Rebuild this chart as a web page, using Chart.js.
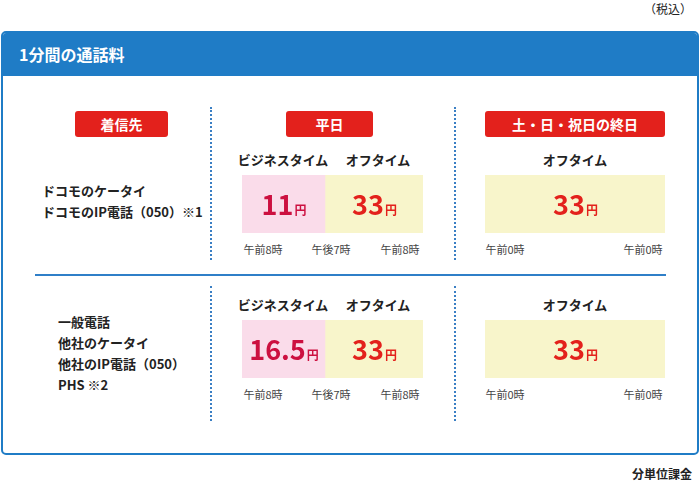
<!DOCTYPE html>
<html><head><meta charset="utf-8">
<script src="https://cdn.jsdelivr.net/npm/chart.js"></script>
<style>
body{margin:0;width:700px;height:483px;position:relative;font-family:"Noto Sans CJK JP",sans-serif;background:#fff;color:#222}
.a{position:absolute;white-space:nowrap}
.tag{position:absolute;background:#e3211c;color:#fff;font-weight:bold;font-size:14px;text-align:center;height:26px;line-height:26px;border-radius:3px}
.h{font-size:13px;font-weight:bold;transform:translateX(-50%)}
.t{font-size:11px;color:#444;transform:translateX(-50%)}
.l{font-size:13px;font-weight:bold;line-height:21px}
.vd{position:absolute;border-left:2px dotted #3a7fc4;width:0}
canvas{display:block}
.cw{position:absolute}
</style></head><body>
<div class="a" style="right:8px;top:0;font-size:12px">（税込）</div>
<div style="position:absolute;left:1px;top:31px;width:694px;height:420px;border:2px solid #1f7cc6;border-radius:5px;overflow:hidden">
 <div style="background:#1f7cc6;height:43px;color:#fff;font-weight:bold;font-size:16px;line-height:43px;padding-left:16px">1分間の通話料</div>
</div>
<div class="a" style="right:8px;top:465px;font-size:12px;font-weight:bold">分単位課金</div>
<div class="tag" style="left:75px;top:111px;width:93px">着信先</div>
<div class="tag" style="left:286px;top:111px;width:87px">平日</div>
<div class="tag" style="left:485px;top:111px;width:180px">土・日・祝日の終日</div>
<div class="vd" style="left:210px;top:107px;height:153px"></div>
<div class="vd" style="left:454px;top:107px;height:153px"></div>
<div class="vd" style="left:210px;top:286px;height:135px"></div>
<div class="vd" style="left:454px;top:286px;height:135px"></div>
<div style="position:absolute;left:35px;top:274px;width:631px;height:2px;background:#2f7fc8"></div>
<div class="a l" style="left:42px;top:180px">ドコモのケータイ<br>ドコモのIP電話（050）※1</div>
<div class="a l" style="left:58px;top:311px">一般電話<br>他社のケータイ<br>他社のIP電話（050）<br>PHS ※2</div>
<div id="txt"></div>
<div class="cw" style="left:242px;top:175px;width:181px;height:58px"><canvas id="c1"></canvas></div>
<div class="cw" style="left:485px;top:175px;width:180px;height:58px"><canvas id="c2"></canvas></div>
<div class="cw" style="left:242px;top:320px;width:181px;height:58px"><canvas id="c3"></canvas></div>
<div class="cw" style="left:485px;top:320px;width:180px;height:58px"><canvas id="c4"></canvas></div>
<script>
const weekdaySpans=[[8,19],[19,32]];
const weekendSpans=[[0,24]];
const rowDocomo=[11,33], rowDocomoWeekend=[33];
const rowOther=[16.5,33], rowOtherWeekend=[33];
const weekdayNames=["ビジネスタイム","オフタイム"], weekendNames=["オフタイム"];
const weekdayTicks=["午前8時","午後7時","午前8時"], weekendTicks=["午前0時","午前0時"];
const colors=["#fadcea","#f8f5cb"], textColors=["#cc1040","#e3211c"];

const txt=document.getElementById('txt');
function add(cls,x,y,s){const d=document.createElement('div');d.className='a '+cls;d.style.left=x+'px';d.style.top=y+'px';d.textContent=s;txt.appendChild(d);}
[[150,295],[395,340]].forEach(([hy,ty])=>{});
[150,295].forEach(hy=>{add('h',283,hy,weekdayNames[0]);add('h',378,hy,weekdayNames[1]);add('h',575,hy,weekendNames[0]);});
[241,386].forEach(ty=>{add('t',263,ty,weekdayTicks[0]);add('t',331,ty,weekdayTicks[1]);add('t',400,ty,weekdayTicks[2]);add('t',505,ty,weekendTicks[0]);add('t',643,ty,weekendTicks[1]);});

const lbl={id:'lbl',afterDatasetsDraw(ch){const c=ch.ctx;ch.data.datasets.forEach((ds,i)=>{const el=ch.getDatasetMeta(i).data[0];const x=(el.base+el.x)/2,y=el.y;const n=String(ds.value);c.save();c.textBaseline='alphabetic';c.font='bold 27px "Noto Sans CJK JP"';const w1=c.measureText(n).width;c.font='bold 12px "Noto Sans CJK JP"';const w2=c.measureText('円').width;const sx=x-(w1+w2)/2;c.fillStyle=ds.tc;c.font='bold 27px "Noto Sans CJK JP"';c.fillText(n,sx,y+11);c.font='bold 12px "Noto Sans CJK JP"';c.fillText('円',sx+w1+1,y+11);c.restore();});}};
function make(id,spans,vals,ci){
 new Chart(document.getElementById(id),{type:'bar',
  data:{labels:[''],datasets:spans.map((s,i)=>({data:[s],value:vals[i],backgroundColor:colors[ci[i]],tc:textColors[ci[i]],borderRadius:0,barPercentage:1,categoryPercentage:1,borderSkipped:false}))},
  options:{indexAxis:'y',responsive:true,maintainAspectRatio:false,animation:false,events:[],
   layout:{padding:0},plugins:{legend:{display:false},tooltip:{enabled:false}},
   scales:{x:{display:false,min:spans[0][0],max:spans[spans.length-1][1]},y:{display:false,stacked:true}}},
  plugins:[lbl]});
}
make('c1',weekdaySpans,rowDocomo,[0,1]);
make('c2',weekendSpans,rowDocomoWeekend,[1]);
make('c3',weekdaySpans,rowOther,[0,1]);
make('c4',weekendSpans,rowOtherWeekend,[1]);
</script>
</body></html>
